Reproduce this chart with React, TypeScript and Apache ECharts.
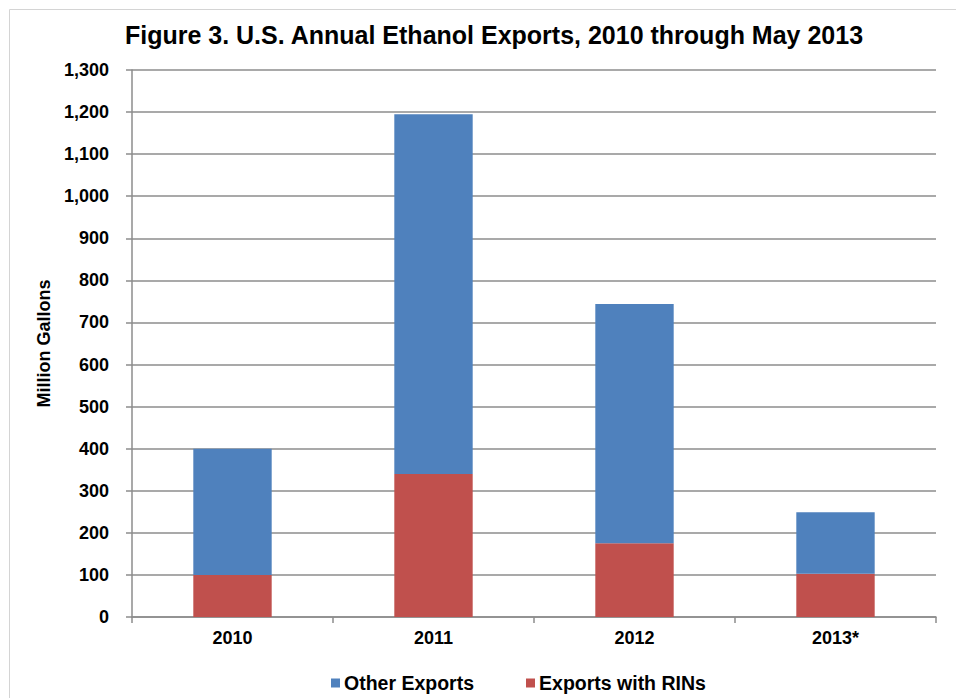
import React, { useEffect, useRef } from "react";
import * as echarts from "echarts";

const title = "Figure 3. U.S. Annual Ethanol Exports, 2010 through May 2013";
const categories = ["2010", "2011", "2012", "2013*"];
const exportsWithRINs = [100, 340, 175, 103];
const otherExports = [300, 855, 569, 146];
const yAxisName = "Million Gallons";
const seriesNames = ["Other Exports", "Exports with RINs"];

const FONT = "'Liberation Sans', Arial, sans-serif";

export default function App() {
  const ref = useRef<HTMLDivElement>(null);
  useEffect(() => {
    if (!ref.current) return;
    const chart = echarts.init(ref.current, null, { renderer: "svg" });
    chart.setOption({
      animation: false,
      backgroundColor: "#ffffff",
      textStyle: { fontFamily: FONT },
      title: {
        text: title,
        left: 489,
        textAlign: "center",
        top: 17,
        textStyle: { fontFamily: FONT, fontSize: 25, fontWeight: "bold", color: "#000" },
      },
      graphic: [
        {
          type: "rect",
          shape: { x: 9.5, y: 9.5, width: 1200, height: 1200 },
          style: { fill: "none", stroke: "#d4d4d4", lineWidth: 1 },
          silent: true,
        },
      ],
      legend: {
        left: 326,
        top: 668,
        itemWidth: 9,
        itemHeight: 9,
        itemGap: 52,
        icon: "rect",
        data: seriesNames,
        textStyle: { fontFamily: FONT, fontSize: 19.5, fontWeight: "bold", color: "#000", padding: [0, 0, 0, -1] },
      },
      grid: { left: 132, right: 20, top: 70, bottom: 81, containLabel: false },
      xAxis: {
        type: "category",
        data: categories,
        axisLine: { lineStyle: { color: "#8c8c8c", width: 1.5 } },
        axisTick: { show: true, length: 6, lineStyle: { color: "#8c8c8c", width: 1.5 } },
        axisLabel: { fontFamily: FONT, fontSize: 18, fontWeight: "bold", color: "#000", margin: 12 },
      },
      yAxis: {
        type: "value",
        min: 0,
        max: 1300,
        interval: 100,
        name: yAxisName,
        nameLocation: "middle",
        nameRotate: 90,
        nameGap: 78,
        nameTextStyle: { fontFamily: FONT, fontSize: 18, fontWeight: "bold", color: "#000" },
        axisLine: { show: true, lineStyle: { color: "#8c8c8c", width: 1.5 } },
        axisTick: { show: true, length: 6, lineStyle: { color: "#8c8c8c", width: 1.5 } },
        axisLabel: {
          fontFamily: FONT,
          fontSize: 18,
          fontWeight: "bold",
          color: "#000",
          margin: 23,
          formatter: (v: number) => v.toLocaleString("en-US"),
        },
        splitLine: { show: true, lineStyle: { color: "#8c8c8c", width: 1.5 } },
      },
      series: [
        {
          name: seriesNames[1],
          type: "bar",
          stack: "total",
          data: exportsWithRINs,
          barWidth: "39%",
          itemStyle: { color: "#C0504D" },
        },
        {
          name: seriesNames[0],
          type: "bar",
          stack: "total",
          data: otherExports,
          barWidth: "39%",
          itemStyle: { color: "#4F81BD" },
        },
      ],
    });
    return () => chart.dispose();
  }, []);
  return (
    <div
      ref={ref}
      style={{ position: "fixed", left: 0, top: 0, width: 956, height: 698 }}
    />
  );
}
